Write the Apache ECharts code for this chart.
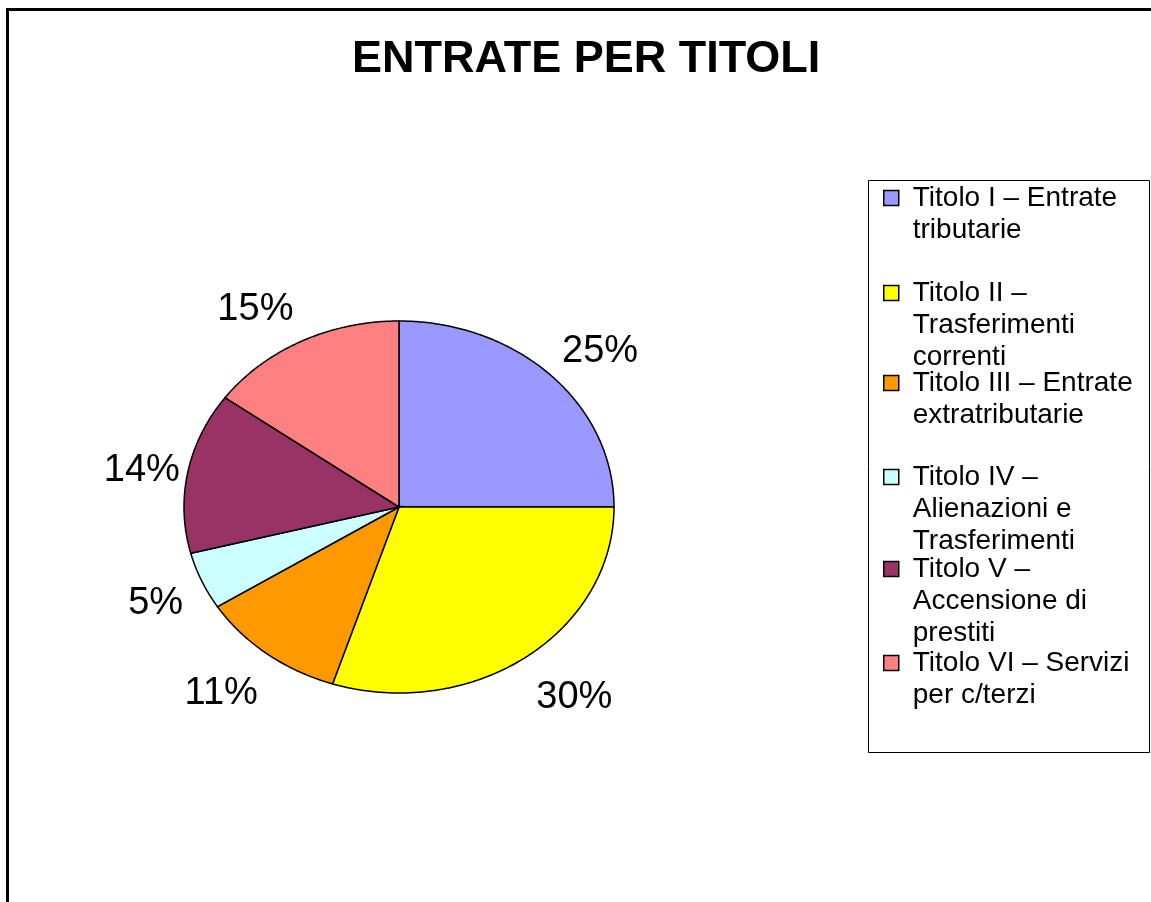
<!DOCTYPE html>
<html>
<head>
<meta charset="utf-8">
<script src="https://cdn.jsdelivr.net/npm/echarts@6/dist/echarts.min.js"></script>
<style>
html,body{margin:0;padding:0;background:#fff;}
#main{width:1151px;height:902px;}
</style>
</head>
<body>
<div id="main"></div>
<script>
/*------------数据-------------*/
var chartTitle = 'ENTRATE PER TITOLI';
var categories = [
	'Titolo I – Entrate tributarie',
	'Titolo II – Trasferimenti correnti',
	'Titolo III – Entrate extratributarie',
	'Titolo IV – Alienazioni e Trasferimenti',
	'Titolo V – Accensione di prestiti',
	'Titolo VI – Servizi per c/terzi'
];
// legend text as wrapped in the picture
var legendLines = [
	['Titolo I – Entrate', 'tributarie'],
	['Titolo II –', 'Trasferimenti', 'correnti'],
	['Titolo III – Entrate', 'extratributarie'],
	['Titolo IV –', 'Alienazioni e', 'Trasferimenti'],
	['Titolo V –', 'Accensione di', 'prestiti'],
	['Titolo VI – Servizi', 'per c/terzi']
];
var values = [25, 30, 11, 5, 14, 15];
var colors = ['#9999FF', '#FFFF00', '#FF9900', '#CCFFFF', '#993366', '#FF8080'];

/*------------布局-------------*/
var CX = 399, CY = 507, RX = 215, RY = 186;
var LABEL_SIZE = 38;
var LINE_H = 32;
var legendCenters = [198, 293, 383, 477, 569, 663];

var total = 0;
values.forEach(function (v) { total += v; });
var starts = [];
var acc = 0;
values.forEach(function (v) { starts.push(acc); acc += v; });

function ellipsePoint(t, kx, ky) {
	return [CX + kx * Math.sin(t), CY - ky * Math.cos(t)];
}

function renderSlice(params, api) {
	var v = api.value(0);
	var s = api.value(1);
	var tot = api.value(2);
	var a0 = s / tot * Math.PI * 2;
	var a1 = (s + v) / tot * Math.PI * 2;
	var pts = [[CX, CY]];
	var steps = Math.max(8, Math.ceil((a1 - a0) / 0.01));
	for (var i = 0; i <= steps; i++) {
		pts.push(ellipsePoint(a0 + (a1 - a0) * i / steps, RX, RY));
	}
	// 标签：水平方向在边缘外固定距离，垂直方向按比例外推
	var mid = (a0 + a1) / 2;
	var sn = Math.sin(mid), cs = Math.cos(mid);
	var txt = Math.round(v / tot * 100) + '%';
	var lx = CX + RX * sn + (sn >= 0 ? 49 : -46);
	var ly = CY - cs * (RY + 42) + 6;
	return {
		type: 'group',
		children: [{
			type: 'polygon',
			shape: {points: pts},
			style: {fill: api.visual('color'), stroke: '#000', lineWidth: 1.5}
		}, {
			type: 'text',
			x: lx,
			y: ly,
			style: {
				text: txt,
				fill: '#000',
				font: LABEL_SIZE + 'px "Liberation Sans", Arial, sans-serif',
				align: 'center',
				verticalAlign: 'middle'
			}
		}]
	};
}

var series = categories.map(function (name, i) {
	return {
		name: name,
		type: 'custom',
		coordinateSystem: 'none',
		animation: false,
		itemStyle: {color: colors[i]},
		renderItem: renderSlice,
		data: [[values[i], starts[i], total]]
	};
});

// 图例：每项一个 legend，前面补空行让方块对齐第一行
var legends = categories.map(function (name, i) {
	var n = legendLines[i].length;
	var pad = '';
	for (var k = 1; k < n; k++) pad += '\n';
	return {
		data: [name],
		left: 883,
		top: legendCenters[i] - (2 * n - 1) * LINE_H / 2,
		padding: 0,
		orient: 'vertical',
		selectedMode: false,
		icon: 'rect',
		itemWidth: 15,
		itemHeight: 15,
		itemStyle: {borderColor: '#000', borderWidth: 1.5},
		formatter: function () {
			return pad + legendLines[i].join('\n');
		},
		textStyle: {
			fontFamily: '"Liberation Sans", Arial, sans-serif',
			fontSize: 28,
			color: '#000',
			lineHeight: LINE_H,
			padding: [0, 0, 0, 9]
		}
	};
});

var chart = echarts.init(document.getElementById('main'));
var option = {
	backgroundColor: '#fff',
	animation: false,
	title: {
		text: chartTitle,
		left: 352,
		top: 37,
		padding: 0,
		textStyle: {
			fontFamily: '"Liberation Sans", Arial, sans-serif',
			fontSize: 45,
			fontWeight: 'bold',
			color: '#000'
		}
	},
	legend: legends,
	graphic: [{
		type: 'rect',
		shape: {x: 7.5, y: 9.5, width: 1300, height: 1000},
		style: {fill: 'none', stroke: '#000', lineWidth: 3},
		silent: true
	}, {
		type: 'rect',
		shape: {x: 868.5, y: 180.5, width: 281, height: 572},
		style: {fill: 'none', stroke: '#000', lineWidth: 1},
		silent: true
	}],
	series: series
};
chart.setOption(option);
</script>
</body>
</html>
